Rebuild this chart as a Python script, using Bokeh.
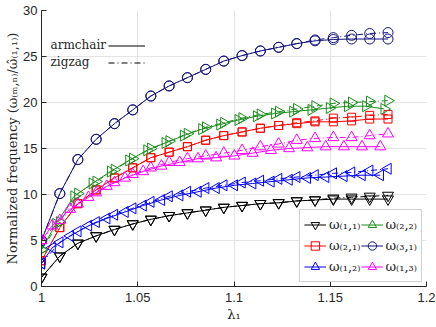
import math
from bokeh.plotting import figure
from bokeh.models import Legend, LegendItem, Label, FixedTicker, NumeralTickFormatter, Range1d
from bokeh.embed import file_html
from bokeh.resources import INLINE

# ---------------- data ----------------
LAM = [1.0, 1.0095, 1.0189, 1.0284, 1.0379, 1.0474, 1.0568, 1.0663, 1.0758, 1.0853,
       1.0947, 1.1042, 1.1137, 1.1232, 1.1326, 1.1421, 1.1516, 1.1611, 1.1705, 1.18]
LAM_ARM_BM = [1.0, 1.0055, 1.0149, 1.0244, 1.0339, 1.0434, 1.0528, 1.0623, 1.0718, 1.0813,
              1.0907, 1.1002, 1.1097, 1.1192, 1.1286, 1.1381, 1.1476, 1.1571, 1.1665, 1.176]
LAM_ARM_G = [1.0, 1.0075, 1.0169, 1.0264, 1.0359, 1.0454, 1.0548, 1.0643, 1.0738, 1.0833,
             1.0927, 1.1022, 1.1117, 1.1212, 1.1306, 1.1401, 1.1496, 1.1591, 1.1685, 1.178]

W11_ARM = [1.0, 3.3, 4.7, 5.5, 6.2, 6.8, 7.3, 7.7, 8.0, 8.3, 8.6, 8.8, 9.0, 9.1, 9.3, 9.4, 9.5, 9.5, 9.5, 9.5]
W11_ZIG = [1.0, 3.3, 4.7, 5.5, 6.2, 6.8, 7.3, 7.7, 8.0, 8.3, 8.6, 8.8, 9.0, 9.1, 9.3, 9.4, 9.6, 9.7, 9.8, 9.9]
W21_ARM = [2.8, 6.4, 9.0, 10.5, 11.8, 12.9, 14.0, 14.6, 15.2, 15.9, 16.4, 16.8, 17.2, 17.5, 17.7, 17.9, 17.9, 18.0, 18.2, 18.2]
W21_ZIG = [2.8, 6.4, 9.0, 10.5, 11.8, 12.9, 14.0, 14.6, 15.2, 15.9, 16.4, 16.8, 17.2, 17.5, 17.8, 18.0, 18.3, 18.4, 18.6, 18.7]
W12_ARM = [2.5, 4.2, 5.5, 6.6, 7.4, 8.1, 8.8, 9.4, 9.9, 10.3, 10.7, 11.0, 11.2, 11.4, 11.6, 11.8, 11.9, 12.0, 12.1, 12.1]
W12_ZIG = [2.5, 4.8, 6.0, 7.0, 7.8, 8.5, 9.2, 9.8, 10.3, 10.7, 11.0, 11.3, 11.5, 11.7, 11.9, 12.1, 12.3, 12.4, 12.6, 12.8]
W22_ARM = [4.0, 6.8, 9.8, 11.2, 12.5, 13.7, 14.8, 15.6, 16.4, 17.1, 17.6, 18.1, 18.5, 18.8, 19.0, 19.2, 19.4, 19.6, 19.6, 19.3]
W22_ZIG = [4.0, 7.0, 10.1, 11.4, 12.7, 13.9, 15.0, 15.8, 16.6, 17.3, 17.8, 18.3, 18.7, 19.0, 19.3, 19.6, 19.9, 20.0, 20.1, 20.2]
W31_ARM = [5.0, 10.1, 13.8, 16.0, 17.7, 19.2, 20.7, 21.8, 22.7, 23.6, 24.5, 25.1, 25.6, 26.0, 26.4, 26.7, 26.85, 26.9, 26.9, 26.9]
W31_ZIG = [5.0, 10.1, 13.8, 16.0, 17.7, 19.2, 20.7, 21.8, 22.7, 23.6, 24.5, 25.1, 25.6, 26.0, 26.4, 26.8, 27.05, 27.3, 27.5, 27.6]
W13_ARM = [5.0, 6.6, 8.4, 9.7, 10.9, 11.8, 12.5, 13.1, 13.5, 13.9, 14.0, 14.2, 14.5, 14.8, 15.0, 15.1, 15.2, 15.2, 15.2, 15.2]
W13_ZIG = [5.0, 7.2, 9.0, 10.2, 11.3, 12.2, 12.9, 13.5, 13.9, 14.2, 14.5, 14.8, 15.2, 15.5, 15.9, 16.1, 16.2, 16.2, 16.4, 16.6]

MODE_LABELS = ["\u03c9\u208d\u2081,\u2081\u208e", "\u03c9\u208d\u2082,\u2081\u208e", "\u03c9\u208d\u2081,\u2082\u208e",
               "\u03c9\u208d\u2082,\u2082\u208e", "\u03c9\u208d\u2083,\u2081\u208e", "\u03c9\u208d\u2081,\u2083\u208e"]
X_TICKS = [1, 1.05, 1.1, 1.15, 1.2]
Y_TICKS = [0, 5, 10, 15, 20, 25, 30]
STYLE_LABELS = ["armchair", "zigzag"]

# (label, color, marker, angle, size, arm_x, arm_y, zig_x, zig_y)
MODES = [
    (MODE_LABELS[0], "#000000", "inverted_triangle", 0.0, 11, LAM, W11_ARM, LAM, W11_ZIG),
    (MODE_LABELS[1], "#ff0000", "square", 0.0, 8, LAM, W21_ARM, LAM, W21_ZIG),
    (MODE_LABELS[2], "#0000ff", "triangle", math.pi / 2, 11, LAM_ARM_BM, W12_ARM, LAM, W12_ZIG),
    (MODE_LABELS[3], "#1a8c1a", "triangle", -math.pi / 2, 11, LAM_ARM_G, W22_ARM, LAM, W22_ZIG),
    (MODE_LABELS[4], "#141480", "circle", 0.0, 10, LAM, W31_ARM, LAM, W31_ZIG),
    (MODE_LABELS[5], "#ff00ff", "triangle", 0.0, 11, LAM_ARM_BM, W13_ARM, LAM, W13_ZIG),
]

AX = "#262626"

p = figure(width=436, height=327, output_backend="svg", toolbar_location=None,
           x_range=Range1d(1, 1.2), y_range=Range1d(0, 30),
           min_border_left=41, min_border_right=10, min_border_top=10, min_border_bottom=41)
p.outline_line_color = None
p.xgrid.grid_line_color = "#e4e4e4"
p.ygrid.grid_line_color = "#e4e4e4"

p.xaxis.ticker = FixedTicker(ticks=X_TICKS)
p.xaxis.formatter = NumeralTickFormatter(format="0.[00]")
p.yaxis.ticker = FixedTicker(ticks=Y_TICKS)
p.xaxis.axis_label = "\u03bb\u2081"
p.yaxis.axis_label = "Normalized frequency (\u03c9\u208d\u2098,\u2099\u208e/\u03c9\u0302\u208d\u2081,\u2081\u208e)"
for ax in (p.xaxis[0], p.yaxis[0]):
    ax.major_tick_in = 5
    ax.major_tick_out = 0
    ax.minor_tick_line_color = None
    ax.axis_line_color = AX
    ax.major_tick_line_color = AX
    ax.major_label_text_font = "Liberation Sans"
    ax.major_label_text_font_size = "13px"
    ax.major_label_text_color = AX
    ax.axis_label_text_font = "DejaVu Serif"
    ax.axis_label_text_font_style = "normal"
    ax.axis_label_text_font_size = "13px"
    ax.axis_label_text_color = AX
p.xaxis.major_label_standoff = 6
p.xaxis.axis_label_standoff = 2
p.yaxis.major_label_standoff = 4
p.yaxis.axis_label_standoff = 0

items = []
style_renderers = []
for (lbl, col, mk, ang, sz, ax_, ay_, zx_, zy_) in MODES:
    rl = p.line(ax_, ay_, line_color=col, line_width=1)
    rs = p.scatter(ax_, ay_, marker=mk, angle=ang, size=sz, line_color=col,
                   fill_color=None, line_width=1)
    zl = p.line(zx_, zy_, line_color=col, line_width=1, line_dash="6 3 1 3")
    p.scatter(zx_, zy_, marker=mk, angle=ang, size=sz, line_color=col,
              fill_color=None, line_width=1)
    items.append(LegendItem(label=lbl, renderers=[rl, rs]))
    if not style_renderers:
        style_renderers = [rl, zl]

legend = Legend(items=items, ncols=2, location="bottom_right",
                border_line_color="#a0a0a0", border_line_width=1,
                background_fill_color="white", background_fill_alpha=1,
                padding=4, spacing=0, margin=4,
                glyph_width=22, glyph_height=21, label_height=21, label_standoff=3,
                label_text_font="DejaVu Serif", label_text_font_size="13px",
                label_text_color=AX)
p.add_layout(legend)

style_legend = Legend(items=[LegendItem(label=" ", renderers=[style_renderers[0]]),
                             LegendItem(label=" ", renderers=[style_renderers[1]])],
                      location=(67, 215), border_line_color=None, background_fill_alpha=0,
                      padding=0, spacing=0, margin=0, glyph_width=37, glyph_height=17,
                      label_height=17, label_width=0, label_standoff=0,
                      label_text_font_size="1px")
p.add_layout(style_legend)

p.add_layout(Label(x=1.0047, y=26.2, text=STYLE_LABELS[0], text_baseline="middle",
                   text_font="DejaVu Serif", text_font_size="12px", text_color=AX))
p.add_layout(Label(x=1.0047, y=24.35, text=STYLE_LABELS[1], text_baseline="middle",
                   text_font="DejaVu Serif", text_font_size="12px", text_color=AX))

open("out.html", "w").write(file_html(p, INLINE))
